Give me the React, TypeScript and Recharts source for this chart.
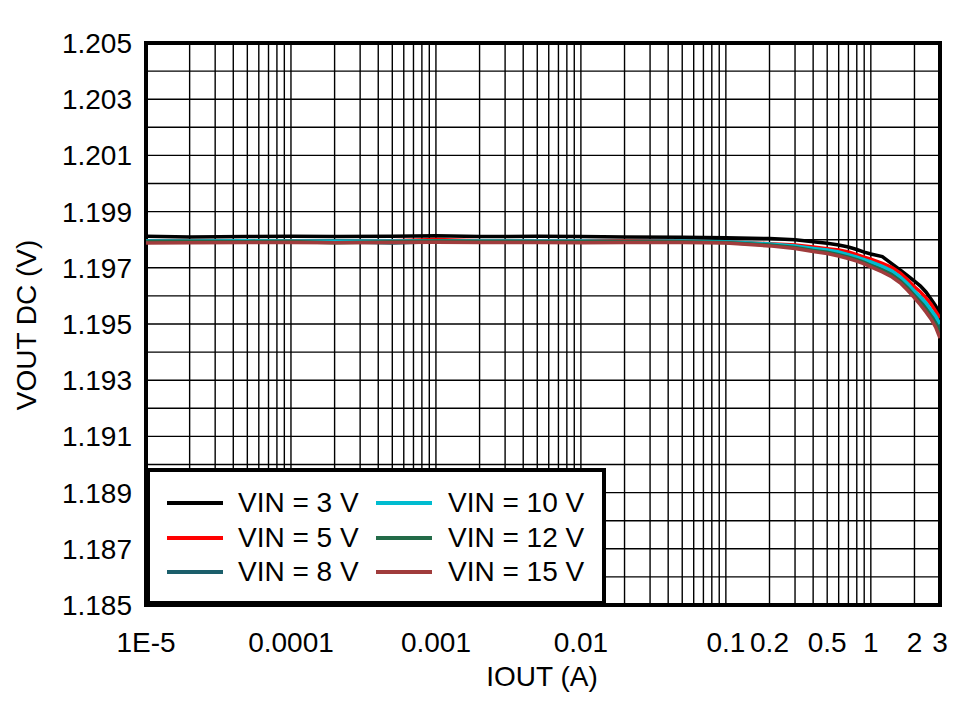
import React from "react";
import {
  LineChart,
  Line,
  XAxis,
  YAxis,
  CartesianGrid,
  ReferenceArea,
  Legend,
} from "recharts";

const iout = [
  1e-5, 2e-5, 5e-5, 1e-4, 2e-4, 5e-4, 1e-3, 2e-3, 5e-3, 0.01, 0.02, 0.05, 0.1,
  0.2, 0.3, 0.4, 0.5, 0.6, 0.7, 0.8, 0.9, 1.0, 1.2, 1.4, 1.6, 1.8, 2.0, 2.2,
  2.4, 2.6, 2.8, 3.0,
];

const vin3 = [
  1.19812, 1.1981, 1.19811, 1.19812, 1.19811, 1.19812, 1.19814, 1.19811,
  1.19812, 1.19811, 1.1981, 1.19809, 1.19807, 1.19804, 1.198, 1.19793, 1.19787,
  1.19781, 1.19774, 1.19765, 1.19756, 1.19749, 1.1974, 1.19714, 1.19692,
  1.19671, 1.19653, 1.19635, 1.19614, 1.19589, 1.19564, 1.19536,
];
const vin5 = [
  1.19794, 1.19795, 1.19794, 1.19795, 1.19794, 1.19796, 1.19801, 1.19796,
  1.19795, 1.19795, 1.19796, 1.19795, 1.19792, 1.19786, 1.19781, 1.19774,
  1.19768, 1.19763, 1.19756, 1.19747, 1.19738, 1.19731, 1.19716, 1.19701,
  1.19681, 1.19657, 1.19632, 1.19614, 1.19593, 1.19571, 1.19546, 1.19521,
];
const vin8 = [
  1.19793, 1.19793, 1.19794, 1.19793, 1.19793, 1.19788, 1.19793, 1.19794,
  1.19793, 1.19793, 1.19793, 1.19794, 1.19792, 1.19783, 1.19775, 1.19766,
  1.19759, 1.19752, 1.19743, 1.19733, 1.19724, 1.19715, 1.19699, 1.19682,
  1.1966, 1.19634, 1.19609, 1.19586, 1.19564, 1.19539, 1.19515, 1.19484,
];
const vin10 = [
  1.19795, 1.19795, 1.19796, 1.19795, 1.19795, 1.19795, 1.19796, 1.19795,
  1.19795, 1.19795, 1.19794, 1.19795, 1.19793, 1.19785, 1.19778, 1.19769,
  1.19763, 1.19756, 1.19747, 1.19738, 1.19729, 1.19721, 1.19705, 1.19689,
  1.19667, 1.19642, 1.19617, 1.19596, 1.19575, 1.1955, 1.19528, 1.195,
];
const vin12 = [
  1.19793, 1.19794, 1.19793, 1.19794, 1.19789, 1.19793, 1.19795, 1.19794,
  1.19793, 1.19793, 1.19794, 1.19793, 1.1979, 1.19781, 1.19772, 1.19762,
  1.19755, 1.19747, 1.19738, 1.19729, 1.19719, 1.19709, 1.19692, 1.19674,
  1.19653, 1.19627, 1.19601, 1.19577, 1.19554, 1.19528, 1.19502, 1.19467,
];
const vin15 = [
  1.19788, 1.19789, 1.1979, 1.1979, 1.19789, 1.1979, 1.19791, 1.1979, 1.1979,
  1.19789, 1.1979, 1.1979, 1.19788, 1.19778, 1.19769, 1.19758, 1.19751,
  1.19742, 1.19733, 1.19724, 1.19714, 1.19703, 1.19685, 1.19667, 1.19646,
  1.19619, 1.19593, 1.19568, 1.19543, 1.19518, 1.19489, 1.1945,
];

const seriesNames = [
  "VIN = 3 V",
  "VIN = 5 V",
  "VIN = 8 V",
  "VIN = 10 V",
  "VIN = 12 V",
  "VIN = 15 V",
];
const seriesKeys = ["v3", "v5", "v8", "v10", "v12", "v15"];
const seriesColors = [
  "#000000",
  "#FF0000",
  "#1B5E6B",
  "#00BCD0",
  "#236B48",
  "#A03C3C",
];
const seriesValues = [vin3, vin5, vin8, vin10, vin12, vin15];

const xTicks = [1e-5, 1e-4, 1e-3, 0.01, 0.1, 0.2, 0.5, 1, 2, 3];
const xTickLabels = [
  "1E-5",
  "0.0001",
  "0.001",
  "0.01",
  "0.1",
  "0.2",
  "0.5",
  "1",
  "2",
  "3",
];
const yTicks = [
  1.185, 1.187, 1.189, 1.191, 1.193, 1.195, 1.197, 1.199, 1.201, 1.203, 1.205,
];
const yGrid = [
  1.185, 1.186, 1.187, 1.188, 1.189, 1.19, 1.191, 1.192, 1.193, 1.194, 1.195,
  1.196, 1.197, 1.198, 1.199, 1.2, 1.201, 1.202, 1.203, 1.204, 1.205,
];
const decades = [1e-5, 1e-4, 1e-3, 1e-2, 1e-1, 1];
const mantissas = [1, 2, 3, 4, 5, 6, 7, 8, 9];
const xGrid = decades
  .flatMap((d) => mantissas.map((m) => m * d))
  .filter((v) => v <= 3.0001);

const data = iout.map((x, i) => {
  const row: Record<string, number> = { iout: x };
  seriesKeys.forEach((k, s) => {
    row[k] = seriesValues[s][i];
  });
  return row;
});

const FONT = "'Liberation Sans', Arial, Helvetica, sans-serif";

const fmtX = (v: number) => {
  const idx = xTicks.findIndex((t) => Math.abs(t - v) / t < 1e-6);
  return idx >= 0 ? xTickLabels[idx] : String(v);
};

const renderLegend = (props: any) => {
  const payload = [...(props.payload || [])].sort(
    (a: any, b: any) =>
      seriesNames.indexOf(a.value) - seriesNames.indexOf(b.value)
  );
  return (
    <div
      style={{
        position: "relative",
        width: 460,
        height: 137,
        border: "4px solid #000",
        boxSizing: "border-box",
        background: "#fff",
        fontFamily: FONT,
      }}
    >
      {payload.map((p: any, i: number) => {
        const col = Math.floor(i / 3);
        const row = i % 3;
        const cy = 31 + row * 34.5;
        return (
          <React.Fragment key={i}>
            <div
              style={{
                position: "absolute",
                left: 17 + col * 209,
                top: cy - 2,
                width: 56,
                height: 4,
                background: p.color,
              }}
            />
            <div
              style={{
                position: "absolute",
                left: 88 + col * 210,
                top: cy - 17,
                height: 34,
                lineHeight: "34px",
                fontSize: 28,
                color: "#000",
                whiteSpace: "pre",
              }}
            >
              {p.value}
            </div>
          </React.Fragment>
        );
      })}
    </div>
  );
};

const YLabel = (props: any) => {
  const vb = props.viewBox || { x: 0, y: 43, width: 146, height: 562 };
  const cx = 26;
  const cy = vb.y + vb.height / 2 + 1;
  return (
    <text
      x={cx}
      y={cy}
      transform={`rotate(-90, ${cx}, ${cy})`}
      textAnchor="middle"
      dominantBaseline="central"
      fontSize={28}
      fontFamily={FONT}
      fill="#000"
    >
      VOUT DC (V)
    </text>
  );
};

const XLabel = (props: any) => {
  const vb = props.viewBox || { x: 146, y: 605, width: 794, height: 96 };
  const cx = vb.x + vb.width / 2 - 1;
  const cy = 676;
  return (
    <text
      x={cx}
      y={cy}
      textAnchor="middle"
      dominantBaseline="central"
      fontSize={28}
      fontFamily={FONT}
      fill="#000"
    >
      IOUT (A)
    </text>
  );
};

export default function App() {
  return (
    <div
      style={{
        position: "absolute",
        left: 0,
        top: 0,
        width: 972,
        height: 701,
        background: "#fff",
      }}
    >
      <LineChart
        width={972}
        height={701}
        data={data}
        margin={{ top: 43, right: 32, bottom: 0, left: 0 }}
      >
        <CartesianGrid
          stroke="#000"
          strokeWidth={1.4}
          horizontalValues={yGrid}
          verticalValues={xGrid}
        />
        <XAxis
          dataKey="iout"
          type="number"
          scale="log"
          domain={[1e-5, 3]}
          ticks={xTicks}
          tickFormatter={fmtX}
          allowDataOverflow
          axisLine={false}
          tickLine={false}
          tickSize={0}
          tickMargin={27}
          height={96}
          interval={0}
          tick={{ fontSize: 28, fontFamily: FONT, fill: "#000" }}
          label={<XLabel />}
        />
        <YAxis
          type="number"
          domain={[1.185, 1.205]}
          ticks={yTicks}
          tickFormatter={(v: number) => v.toFixed(3)}
          allowDataOverflow
          axisLine={false}
          tickLine={false}
          tickSize={0}
          tickMargin={14}
          width={146}
          interval={0}
          tick={{ fontSize: 28, fontFamily: FONT, fill: "#000" }}
          label={<YLabel />}
        />
        {seriesKeys.map((k, s) => (
          <Line
            key={k}
            dataKey={k}
            name={seriesNames[s]}
            stroke={seriesColors[s]}
            strokeWidth={3.5}
            dot={false}
            activeDot={false}
            type="linear"
            isAnimationActive={false}
          />
        ))}
        <ReferenceArea
          x1={1e-5}
          x2={3}
          y1={1.185}
          y2={1.205}
          fill="none"
          fillOpacity={0}
          stroke="#000"
          strokeWidth={4}
          ifOverflow="visible"
        />
        <Legend
          layout="vertical"
          align="center"
          verticalAlign="middle"
          itemSorter={null as any}
          content={renderLegend}
          wrapperStyle={{ left: 146, top: 468, width: 460, height: 137 }}
        />
      </LineChart>
    </div>
  );
}
